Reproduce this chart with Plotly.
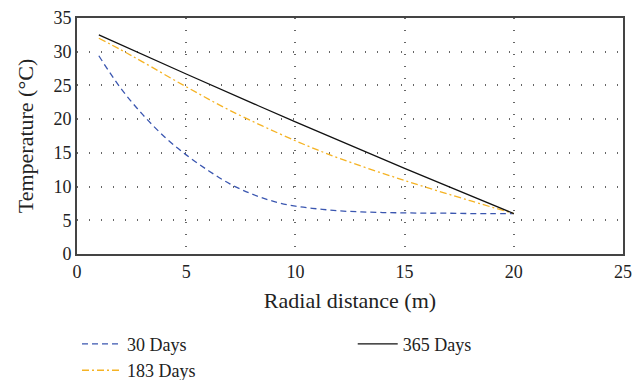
import plotly.graph_objects as go

x30 = [1, 2, 3, 4, 5, 6, 7, 8, 9, 10, 11, 12, 13, 14, 15, 16, 17, 18, 19, 20]
y30 = [29.4, 24.6, 20.7, 17.4, 14.7, 12.4, 10.4, 8.9, 7.8, 7.1, 6.7, 6.4, 6.25, 6.15, 6.1, 6.05, 6.05, 6.0, 6.0, 6.0]

x183 = [1, 2, 3, 5, 7, 10, 12, 15, 18, 20]
y183 = [32.0, 30.3, 28.5, 24.8, 21.3, 16.8, 14.2, 10.9, 7.9, 6.0]

x365 = [1, 5, 10, 15, 20]
y365 = [32.5, 26.7, 19.6, 12.7, 6.0]

FONT = "Liberation Serif"

fig = go.Figure()
fig.add_trace(go.Scatter(x=x30, y=y30, mode="lines", name="30 Days", legend="legend",
                         line=dict(color="#3A56B0", width=1.3, dash="6px,4px"), line_shape="spline"))
fig.add_trace(go.Scatter(x=x183, y=y183, mode="lines", name="183 Days", legend="legend",
                         line=dict(color="#F5B324", width=1.3, dash="7px,3px,2px,3px"), line_shape="spline"))
fig.add_trace(go.Scatter(x=x365, y=y365, mode="lines", name="365 Days", legend="legend2",
                         line=dict(color="#111111", width=1.3), line_shape="spline"))

fig.update_layout(
    width=643, height=380,
    margin=dict(l=77, r=20, t=18, b=126),
    paper_bgcolor="white", plot_bgcolor="white",
    font=dict(family=FONT, size=18, color="#222222"),
    showlegend=True,
    legend=dict(orientation="v", x=0.0, xanchor="left", yref="container", y=0.143, yanchor="top",
                tracegroupgap=0, font=dict(family=FONT, size=18), itemwidth=40),
    legend2=dict(orientation="v", x=0.505, xanchor="left", yref="container", y=0.143, yanchor="top",
                 tracegroupgap=0, font=dict(family=FONT, size=18), itemwidth=40),
)
fig.update_xaxes(range=[0, 25], dtick=5, showgrid=True, gridcolor="#666666", griddash="1px,11px", gridwidth=1.5,
                 showline=True, linecolor="#444444", linewidth=2, mirror=True, zeroline=False, automargin=False,
                 ticks="", title=dict(text="Radial distance (m)", standoff=12), tickfont=dict(size=18))
fig.update_yaxes(range=[0, 35], dtick=5, showgrid=True, gridcolor="#666666", griddash="1px,11px", gridwidth=1.5,
                 showline=True, linecolor="#444444", linewidth=2, mirror=True, zeroline=False, automargin=False,
                 ticks="", title=dict(text="Temperature (°C)", standoff=14), tickfont=dict(size=18))

fig.write_html("out.html", config={"displayModeBar": False},
               post_script="document.body.style.margin='0';")
